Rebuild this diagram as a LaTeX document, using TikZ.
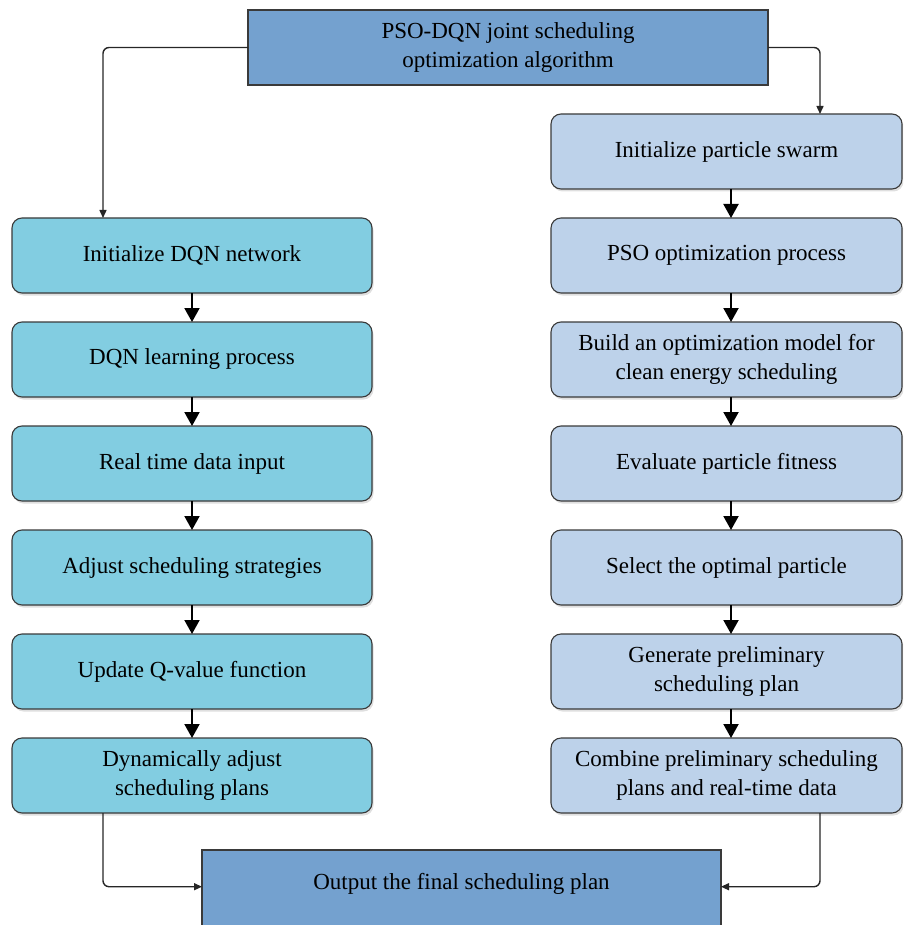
\documentclass[tikz,border=0pt]{standalone}
\usepackage{fontspec}
\setmainfont{Liberation Serif}
\usetikzlibrary{shapes,arrows.meta,positioning,shadows}

\definecolor{headblue}{HTML}{74A1CF}
\definecolor{dqncyan}{HTML}{82CDE1}
\definecolor{psoblue}{HTML}{BDD2EA}
\definecolor{edgegray}{HTML}{3A3A3A}

\tikzset{
    headbox/.style={draw=edgegray, fill=headblue, line width=1.1pt, minimum width=520pt,
        minimum height=75pt, align=center, outer sep=0pt},
    dqnbox/.style={draw=edgegray, fill=dqncyan, line width=1.1pt, rounded corners=10pt,
        minimum width=360pt, minimum height=75pt, align=center, outer sep=0pt,
        drop shadow={shadow xshift=1.5pt, shadow yshift=-2.5pt, opacity=0.25}},
    psobox/.style={dqnbox, fill=psoblue, minimum width=351pt},
    stepline/.style={line width=2pt, -{Triangle[length=14pt,width=15pt]}},
    link/.style={draw=black!85, line width=1.4pt, rounded corners=6pt,
        -{Triangle[length=8pt,width=7pt]}}
}

\begin{document}
\begin{tikzpicture}[x=1pt, y=-1pt, font=\fontsize{23}{29}\selectfont, node distance=29pt]
    \clip (0,0) rectangle (903,925);

    % Top and bottom
    \node[headbox] (algo) at (508,47.5) {PSO-DQN joint scheduling\\optimization algorithm};
    \node[headbox, minimum width=519pt, minimum height=0pt, anchor=north, inner ysep=20pt,
        text height=19pt, text depth=40pt] (final) at (461.5,850) {Output the final scheduling plan};

    % DQN branch
    \node[dqnbox] (d1) at (192,255.5) {Initialize DQN network};
    \node[dqnbox, below=of d1] (d2) {DQN learning process};
    \node[dqnbox, below=of d2] (d3) {Real time data input};
    \node[dqnbox, below=of d3] (d4) {Adjust scheduling strategies};
    \node[dqnbox, below=of d4] (d5) {Update Q-value function};
    \node[dqnbox, below=of d5] (d6) {Dynamically adjust\\scheduling plans};

    % PSO branch
    \node[psobox] (p1) at (726.5,151.5) {Initialize particle swarm};
    \node[psobox, below=of p1] (p2) {PSO optimization process};
    \node[psobox, below=of p2] (p3) {Build an optimization model for\\clean energy scheduling};
    \node[psobox, below=of p3] (p4) {Evaluate particle fitness};
    \node[psobox, below=of p4] (p5) {Select the optimal particle};
    \node[psobox, below=of p5] (p6) {Generate preliminary\\scheduling plan};
    \node[psobox, below=of p6] (p7) {Combine preliminary scheduling\\plans and real-time data};

    % Steps
    \foreach \a/\b in {d1/d2, d2/d3, d3/d4, d4/d5, d5/d6}
        \draw[stepline] (\a.south) -- (\b.north);
    \foreach \a/\b in {p1/p2, p2/p3, p3/p4, p4/p5, p5/p6, p6/p7}
        \draw[stepline] ([xshift=4.5pt]\a.south) -- ([xshift=4.5pt]\b.north);

    % Branch links
    \draw[link] (algo.west) -| ([xshift=91pt]d1.north west);
    \draw[link] (algo.east) -| ([xshift=269pt]p1.north west);
    \draw[link] ([xshift=91pt]d6.south west) |- (final.mid west);
    \draw[link] ([xshift=269pt]p7.south west) |- (final.mid east);
\end{tikzpicture}
\end{document}
